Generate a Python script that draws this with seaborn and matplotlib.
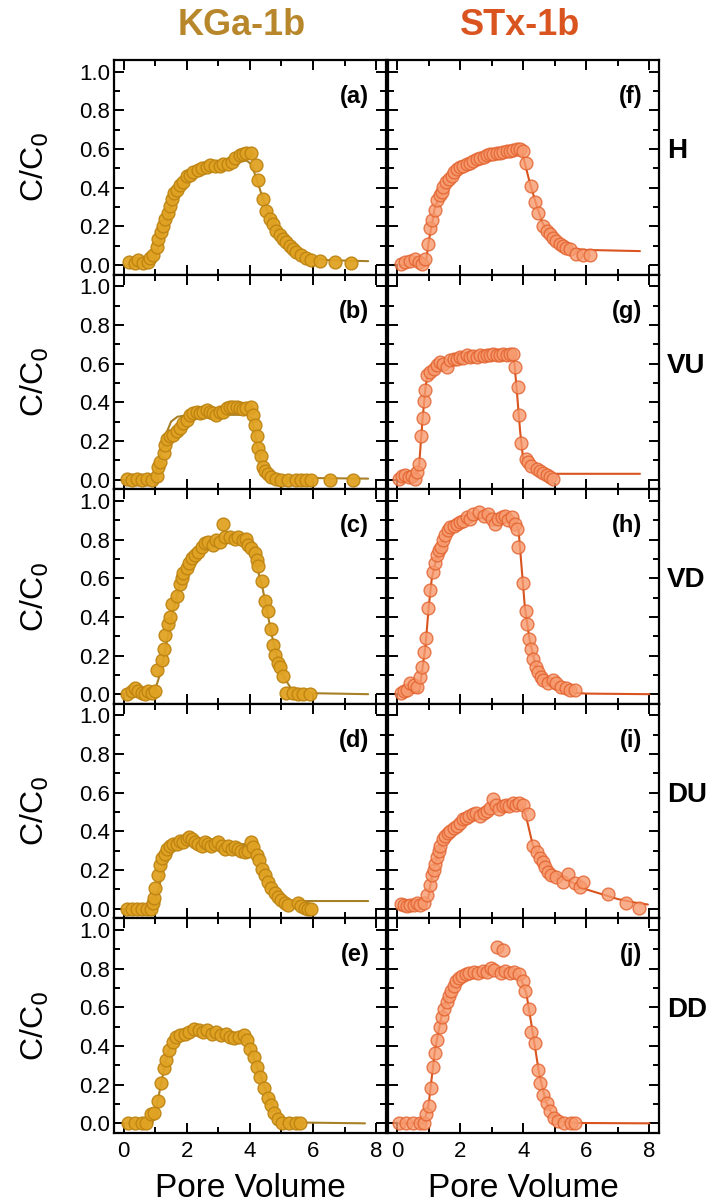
import numpy as np
import pandas as pd
import matplotlib
matplotlib.use("Agg")
import matplotlib.pyplot as plt
import seaborn as sns
from matplotlib.ticker import MultipleLocator, FormatStrFormatter

# ==========================================
# 1. DATA
# ==========================================
# --- KGa-1b ---
a_x = [0.15, 0.36, 0.46, 0.62, 0.78, 0.83, 0.94, 1.04, 1.09, 1.18, 1.25, 1.31, 1.39, 1.47, 1.52, 1.60,
       1.68, 1.78, 1.89, 1.99, 2.10, 2.21, 2.36, 2.47, 2.63, 2.73, 2.89, 3.05, 3.15, 3.31, 3.42, 3.52,
       3.68, 3.79, 3.89, 4.03, 4.18, 4.26, 4.42, 4.52, 4.63, 4.74, 4.84, 4.95, 5.05, 5.16, 5.26, 5.37,
       5.47, 5.63, 5.79, 5.95, 6.21, 6.69, 7.22]
a_y = [0.017, 0.008, 0.025, 0.008, 0.017, 0.034, 0.05, 0.093, 0.136, 0.17, 0.20, 0.24, 0.27, 0.305, 0.34, 0.37,
       0.39, 0.415, 0.43, 0.46, 0.466, 0.483, 0.49, 0.50, 0.508, 0.517, 0.513, 0.51, 0.52, 0.525, 0.534, 0.556,
       0.568, 0.576, 0.58, 0.58, 0.517, 0.44, 0.34, 0.28, 0.237, 0.21, 0.178, 0.153, 0.136, 0.12, 0.10, 0.085,
       0.068, 0.05, 0.034, 0.025, 0.022, 0.017, 0.008]
a_fit_x = [0.1, 0.8, 0.95, 1.1, 1.3, 1.5, 1.7, 2.0, 2.3, 2.6, 3.0, 3.5, 3.9, 4.05, 4.2, 4.5, 4.8, 5.0, 5.5, 6.0, 6.5, 7.75]
a_fit_y = [0.0, 0.0, 0.02, 0.09, 0.2, 0.3, 0.37, 0.44, 0.48, 0.5, 0.515, 0.53, 0.54, 0.52, 0.45, 0.3, 0.19, 0.14, 0.07, 0.035, 0.025, 0.02]

b_x = [0.10, 0.25, 0.42, 0.57, 0.73, 0.89, 1.04, 1.10, 1.15, 1.26, 1.31, 1.36, 1.47, 1.57, 1.68, 1.78,
       1.89, 1.99, 2.10, 2.20, 2.31, 2.42, 2.52, 2.63, 2.73, 2.84, 2.94, 3.05, 3.15, 3.26, 3.37, 3.47,
       3.58, 3.68, 3.79, 3.89, 4.03, 4.10, 4.16, 4.21, 4.26, 4.35, 4.42, 4.49, 4.58, 4.68, 4.84, 5.00,
       5.21, 5.47, 5.63, 5.79, 5.95, 6.53, 7.27]
b_y = [0.005, 0.0, 0.005, 0.0, 0.005, 0.0, 0.02, 0.063, 0.09, 0.14, 0.18, 0.21, 0.225, 0.233, 0.25, 0.267,
       0.293, 0.31, 0.335, 0.344, 0.352, 0.344, 0.352, 0.36, 0.352, 0.344, 0.335, 0.352, 0.352, 0.369, 0.378, 0.373,
       0.378, 0.369, 0.366, 0.369, 0.378, 0.335, 0.284, 0.225, 0.165, 0.123, 0.063, 0.046, 0.029, 0.012, 0.003, 0.0,
       0.0, 0.0, 0.0, 0.0, 0.0, 0.0, 0.0]
b_fit_x = [0.1, 0.9, 1.0, 1.1, 1.3, 1.5, 1.7, 2.0, 3.0, 3.9, 4.05, 4.2, 4.35, 4.5, 4.8, 7.75]
b_fit_y = [0.0, 0.0, 0.02, 0.08, 0.22, 0.3, 0.325, 0.333, 0.335, 0.335, 0.32, 0.2, 0.08, 0.03, 0.01, 0.005]

c_x = [0.10, 0.25, 0.36, 0.46, 0.57, 0.68, 0.78, 0.89, 0.99, 1.04, 1.20, 1.26, 1.31, 1.39, 1.47, 1.54,
       1.68, 1.78, 1.84, 1.89, 1.99, 2.07, 2.15, 2.26, 2.36, 2.47, 2.57, 2.68, 2.84, 2.94, 3.05, 3.15,
       3.21, 3.37, 3.52, 3.63, 3.79, 3.89, 3.95, 4.05, 4.16, 4.21, 4.26, 4.39, 4.47, 4.58, 4.68, 4.74,
       4.79, 4.89, 4.95, 5.05, 5.16, 5.37, 5.53, 5.69, 5.90]
c_y = [0.0, 0.015, 0.03, 0.015, 0.007, 0.0, 0.015, 0.007, 0.015, 0.126, 0.177, 0.236, 0.304, 0.364, 0.398, 0.466,
       0.508, 0.568, 0.602, 0.627, 0.653, 0.678, 0.703, 0.72, 0.737, 0.763, 0.78, 0.788, 0.771, 0.797, 0.788, 0.878,
       0.814, 0.814, 0.805, 0.814, 0.797, 0.805, 0.771, 0.754, 0.729, 0.695, 0.661, 0.585, 0.483, 0.432, 0.338, 0.253,
       0.202, 0.16, 0.143, 0.092, 0.007, 0.007, 0.002, 0.0, 0.0]
c_fit_x = [0.1, 0.95, 1.2, 1.5, 1.8, 2.0, 2.3, 2.6, 3.0, 3.4, 3.8, 4.1, 4.4, 4.7, 5.0, 5.3, 5.6, 6.0, 7.75]
c_fit_y = [0.0, 0.0, 0.13, 0.39, 0.58, 0.67, 0.74, 0.78, 0.80, 0.805, 0.79, 0.73, 0.55, 0.3, 0.11, 0.03, 0.01, 0.005, 0.0]

d_x = [0.10, 0.25, 0.41, 0.57, 0.73, 0.86, 0.94, 0.97, 0.99, 1.08, 1.15, 1.20, 1.31, 1.36, 1.47, 1.57,
       1.68, 1.78, 1.89, 1.99, 2.07, 2.15, 2.26, 2.36, 2.47, 2.57, 2.68, 2.78, 2.89, 2.99, 3.10, 3.21,
       3.31, 3.42, 3.52, 3.63, 3.73, 3.84, 3.95, 4.03, 4.10, 4.21, 4.28, 4.37, 4.47, 4.58, 4.68, 4.79,
       4.89, 5.00, 5.11, 5.21, 5.53, 5.63, 5.74, 5.84, 5.95]
d_y = [0.0, 0.0, 0.0, 0.0, 0.0, 0.0, 0.03, 0.055, 0.105, 0.174, 0.225, 0.26, 0.284, 0.31, 0.327, 0.335,
       0.335, 0.352, 0.344, 0.361, 0.37, 0.361, 0.344, 0.335, 0.327, 0.344, 0.335, 0.327, 0.335, 0.344, 0.327, 0.31,
       0.327, 0.31, 0.318, 0.31, 0.301, 0.293, 0.301, 0.344, 0.318, 0.276, 0.25, 0.208, 0.174, 0.14, 0.106, 0.08,
       0.063, 0.046, 0.029, 0.017, 0.029, 0.012, 0.003, 0.0, 0.0]
d_fit_x = [0.1, 0.9, 1.0, 1.2, 1.4, 1.6, 1.9, 2.5, 3.5, 4.0, 4.2, 4.5, 4.8, 5.1, 5.4, 7.75]
d_fit_y = [0.0, 0.0, 0.03, 0.17, 0.28, 0.32, 0.335, 0.34, 0.34, 0.33, 0.29, 0.19, 0.1, 0.05, 0.04, 0.04]

e_x = [0.14, 0.36, 0.57, 0.72, 0.86, 0.97, 1.08, 1.18, 1.26, 1.33, 1.43, 1.55, 1.65, 1.79, 1.94, 2.08,
       2.22, 2.37, 2.51, 2.65, 2.80, 2.94, 3.08, 3.23, 3.37, 3.51, 3.66, 3.80, 3.90, 4.01, 4.13, 4.23,
       4.33, 4.44, 4.56, 4.66, 4.77, 4.90, 5.02, 5.23, 5.45, 5.59]
e_y = [0.0, 0.0, 0.0, 0.003, 0.046, 0.055, 0.114, 0.208, 0.285, 0.328, 0.379, 0.421, 0.447, 0.456, 0.464, 0.473,
       0.49, 0.481, 0.473, 0.481, 0.464, 0.473, 0.456, 0.464, 0.447, 0.439, 0.447, 0.456, 0.43, 0.387, 0.345, 0.294,
       0.242, 0.183, 0.131, 0.097, 0.055, 0.02, 0.003, 0.0, 0.0, 0.0]
e_fit_x = [0.1, 0.9, 1.0, 1.2, 1.4, 1.6, 1.8, 2.2, 3.0, 3.6, 3.8, 4.0, 4.3, 4.6, 4.9, 5.2, 7.65]
e_fit_y = [0.0, 0.0, 0.05, 0.22, 0.37, 0.43, 0.455, 0.465, 0.465, 0.455, 0.44, 0.39, 0.26, 0.13, 0.04, 0.005, 0.0]

# --- STx-1b ---
f_x = [0.11, 0.26, 0.42, 0.58, 0.68, 0.79, 0.89, 0.97, 1.05, 1.10, 1.21, 1.26, 1.35, 1.42, 1.47, 1.56,
       1.63, 1.74, 1.81, 1.89, 2.00, 2.10, 2.21, 2.31, 2.42, 2.53, 2.63, 2.74, 2.84, 2.95, 3.05, 3.16,
       3.26, 3.37, 3.47, 3.58, 3.68, 3.79, 3.89, 3.98, 4.10, 4.26, 4.37, 4.47, 4.63, 4.74, 4.84, 4.95,
       5.05, 5.16, 5.26, 5.37, 5.47, 5.68, 5.89, 6.10]
f_y = [0.005, 0.014, 0.022, 0.03, 0.014, 0.005, 0.03, 0.107, 0.19, 0.234, 0.285, 0.335, 0.36, 0.378, 0.403, 0.43,
       0.446, 0.463, 0.48, 0.497, 0.505, 0.514, 0.522, 0.53, 0.539, 0.547, 0.556, 0.56, 0.57, 0.573, 0.576, 0.581,
       0.581, 0.586, 0.59, 0.59, 0.593, 0.598, 0.598, 0.59, 0.53, 0.41, 0.327, 0.268, 0.2, 0.175, 0.158, 0.141,
       0.124, 0.11, 0.098, 0.09, 0.081, 0.056, 0.05, 0.05]
f_fit_x = [0.1, 0.9, 1.0, 1.2, 1.5, 2.0, 2.5, 3.0, 3.5, 3.95, 4.2, 4.4, 4.6, 4.9, 5.2, 5.5, 6.0, 7.7]
f_fit_y = [0.0, 0.0, 0.12, 0.3, 0.41, 0.5, 0.54, 0.565, 0.58, 0.59, 0.43, 0.32, 0.22, 0.14, 0.1, 0.085, 0.078, 0.072]

g_x = [0.05, 0.16, 0.26, 0.37, 0.47, 0.58, 0.63, 0.68, 0.76, 0.82, 0.86, 0.89, 0.95, 1.05, 1.16, 1.26,
       1.37, 1.47, 1.58, 1.68, 1.79, 1.89, 2.00, 2.10, 2.21, 2.32, 2.42, 2.53, 2.63, 2.74, 2.84, 2.95,
       3.05, 3.16, 3.26, 3.37, 3.47, 3.58, 3.68, 3.74, 3.82, 3.87, 3.92, 4.08, 4.16, 4.26, 4.42, 4.53,
       4.63, 4.74, 4.84, 4.95]
g_y = [0.003, 0.02, 0.026, 0.012, 0.02, 0.003, 0.037, 0.08, 0.225, 0.319, 0.404, 0.463, 0.54, 0.557, 0.574, 0.591,
       0.608, 0.6, 0.583, 0.617, 0.625, 0.622, 0.634, 0.629, 0.642, 0.634, 0.639, 0.634, 0.642, 0.639, 0.646, 0.642,
       0.651, 0.646, 0.642, 0.651, 0.646, 0.651, 0.651, 0.583, 0.48, 0.336, 0.19, 0.106, 0.089, 0.072, 0.055, 0.046,
       0.032, 0.026, 0.015, 0.003]
g_fit_x = [0.05, 0.6, 0.7, 0.8, 0.9, 0.98, 1.2, 1.6, 2.0, 3.0, 3.65, 3.72, 3.8, 3.9, 4.0, 4.2, 4.5, 4.8, 7.7]
g_fit_y = [0.0, 0.0, 0.08, 0.3, 0.48, 0.55, 0.58, 0.61, 0.625, 0.64, 0.645, 0.6, 0.45, 0.25, 0.1, 0.06, 0.04, 0.03, 0.03]

h_x = [0.11, 0.21, 0.32, 0.42, 0.53, 0.63, 0.72, 0.79, 0.86, 0.92, 0.98, 1.05, 1.14, 1.21, 1.26, 1.32,
       1.39, 1.45, 1.53, 1.60, 1.68, 1.79, 1.89, 2.00, 2.10, 2.21, 2.32, 2.42, 2.58, 2.74, 2.89, 3.00,
       3.10, 3.21, 3.32, 3.42, 3.53, 3.63, 3.74, 3.81, 3.84, 4.00, 4.08, 4.11, 4.19, 4.24, 4.32, 4.40,
       4.47, 4.55, 4.63, 4.79, 4.95, 5.05, 5.21, 5.37, 5.47, 5.63]
h_y = [0.005, 0.014, 0.022, 0.056, 0.048, 0.039, 0.09, 0.141, 0.218, 0.291, 0.447, 0.541, 0.634, 0.677, 0.719, 0.745,
       0.762, 0.796, 0.821, 0.847, 0.864, 0.872, 0.881, 0.889, 0.898, 0.915, 0.906, 0.932, 0.94, 0.923, 0.932, 0.906,
       0.881, 0.906, 0.915, 0.923, 0.901, 0.915, 0.881, 0.855, 0.762, 0.575, 0.43, 0.362, 0.286, 0.235, 0.184, 0.141,
       0.116, 0.09, 0.073, 0.056, 0.073, 0.056, 0.039, 0.031, 0.022, 0.022]
h_fit_x = [0.1, 0.7, 0.9, 1.0, 1.1, 1.3, 1.5, 1.8, 2.2, 2.8, 3.4, 3.7, 3.85, 3.95, 4.05, 4.2, 4.4, 4.7, 5.0, 5.5, 6.0, 8.0]
h_fit_y = [0.0, 0.01, 0.25, 0.45, 0.6, 0.74, 0.81, 0.87, 0.9, 0.915, 0.915, 0.905, 0.85, 0.65, 0.45, 0.28, 0.14, 0.06, 0.025, 0.008, 0.003, 0.0]

i_x = [0.11, 0.21, 0.32, 0.42, 0.53, 0.63, 0.74, 0.84, 0.95, 1.05, 1.10, 1.16, 1.21, 1.26, 1.32, 1.37,
       1.45, 1.53, 1.60, 1.68, 1.79, 1.89, 1.98, 2.08, 2.19, 2.29, 2.40, 2.51, 2.63, 2.74, 2.84, 2.95,
       3.03, 3.14, 3.24, 3.35, 3.45, 3.56, 3.66, 3.77, 3.87, 4.00, 4.16, 4.32, 4.44, 4.53, 4.61, 4.68,
       4.79, 4.89, 5.05, 5.26, 5.42, 5.63, 5.79, 5.89, 6.68, 7.26, 7.68]
i_y = [0.024, 0.017, 0.012, 0.02, 0.017, 0.029, 0.017, 0.029, 0.071, 0.122, 0.173, 0.2, 0.233, 0.267, 0.301, 0.327,
       0.36, 0.378, 0.391, 0.403, 0.42, 0.429, 0.446, 0.463, 0.471, 0.48, 0.488, 0.497, 0.48, 0.497, 0.505, 0.522,
       0.57, 0.539, 0.514, 0.531, 0.539, 0.531, 0.548, 0.539, 0.548, 0.539, 0.488, 0.327, 0.293, 0.262, 0.241, 0.216,
       0.19, 0.173, 0.165, 0.139, 0.182, 0.131, 0.114, 0.136, 0.075, 0.032, 0.003]
i_fit_x = [0.1, 0.9, 1.0, 1.1, 1.3, 1.5, 1.8, 2.2, 2.6, 3.0, 3.5, 3.95, 4.1, 4.3, 4.6, 5.0, 5.5, 6.0, 6.5, 7.0, 7.6, 7.95]
i_fit_y = [0.01, 0.01, 0.07, 0.17, 0.29, 0.36, 0.42, 0.46, 0.49, 0.51, 0.53, 0.54, 0.47, 0.33, 0.25, 0.19, 0.14, 0.1, 0.075, 0.05, 0.03, 0.022]

j_x = [0.07, 0.29, 0.50, 0.71, 0.86, 0.93, 1.00, 1.07, 1.14, 1.21, 1.26, 1.36, 1.43, 1.50, 1.57, 1.64,
       1.71, 1.79, 1.86, 1.97, 2.07, 2.17, 2.29, 2.43, 2.57, 2.71, 2.86, 2.97, 3.07, 3.17, 3.36, 3.29,
       3.43, 3.57, 3.71, 3.86, 4.00, 4.07, 4.17, 4.26, 4.36, 4.46, 4.54, 4.64, 4.74, 4.86, 4.97, 5.11,
       5.29, 5.50, 5.64]
j_y = [0.0, 0.0, 0.0, 0.0, 0.003, 0.046, 0.089, 0.183, 0.294, 0.362, 0.43, 0.498, 0.55, 0.592, 0.626, 0.66,
       0.686, 0.712, 0.737, 0.754, 0.763, 0.771, 0.78, 0.785, 0.78, 0.788, 0.785, 0.805, 0.792, 0.911, 0.899, 0.78,
       0.788, 0.78, 0.785, 0.771, 0.737, 0.686, 0.592, 0.473, 0.413, 0.276, 0.208, 0.148, 0.106, 0.063, 0.029, 0.012,
       0.003, 0.0, 0.0]
j_fit_x = [0.05, 0.85, 1.0, 1.2, 1.4, 1.6, 1.8, 2.0, 2.5, 3.0, 3.6, 3.9, 4.1, 4.3, 4.5, 4.7, 4.9, 5.2, 5.6, 8.0]
j_fit_y = [0.0, 0.0, 0.1, 0.38, 0.55, 0.66, 0.73, 0.76, 0.785, 0.79, 0.785, 0.76, 0.67, 0.47, 0.26, 0.12, 0.05, 0.01, 0.002, 0.0]

clays = ["KGa-1b", "STx-1b"]
orientations = ["H", "VU", "VD", "DU", "DD"]
panel_letters = [["a", "b", "c", "d", "e"], ["f", "g", "h", "i", "j"]]

obs = {
    "a": (a_x, a_y), "b": (b_x, b_y), "c": (c_x, c_y), "d": (d_x, d_y), "e": (e_x, e_y),
    "f": (f_x, f_y), "g": (g_x, g_y), "h": (h_x, h_y), "i": (i_x, i_y), "j": (j_x, j_y),
}
fits = {
    "a": (a_fit_x, a_fit_y), "b": (b_fit_x, b_fit_y), "c": (c_fit_x, c_fit_y), "d": (d_fit_x, d_fit_y),
    "e": (e_fit_x, e_fit_y), "f": (f_fit_x, f_fit_y), "g": (g_fit_x, g_fit_y), "h": (h_fit_x, h_fit_y),
    "i": (i_fit_x, i_fit_y), "j": (j_fit_x, j_fit_y),
}

# ==========================================
# 2. STYLE
# ==========================================
STYLE = {
    "KGa-1b": dict(face="#E0A222", edge="#BE8412", line="#A88028", title="#B8862B", alpha=0.95),
    "STx-1b": dict(face="#F79A6E", edge="#E2602C", line="#D9541E", title="#D9541E", alpha=0.8),
}

sns.set_style("ticks")
plt.rcParams["font.family"] = ["Liberation Sans", "DejaVu Sans"]
plt.rcParams["axes.linewidth"] = 1.6
plt.rcParams["axes.edgecolor"] = "black"
plt.rcParams["xtick.color"] = "black"
plt.rcParams["ytick.color"] = "black"
plt.rcParams["axes.labelcolor"] = "black"
plt.rcParams["text.color"] = "black"

fig = plt.figure(figsize=(7.1, 12.02), dpi=100)
gs = fig.add_gridspec(5, 2, left=0.161, right=0.928, top=0.950, bottom=0.0574, hspace=0, wspace=0.008)

# ==========================================
# 3. PANELS
# ==========================================
for col, clay in enumerate(clays):
    st = STYLE[clay]
    for row, orient in enumerate(orientations):
        ax = fig.add_subplot(gs[row, col])
        letter = panel_letters[col][row]
        ox, oy = obs[letter]
        fx, fy = fits[letter]
        df_obs = pd.DataFrame({"pv": ox, "c": oy})
        df_fit = pd.DataFrame({"pv": fx, "c": fy})

        sns.lineplot(data=df_fit, x="pv", y="c", ax=ax, color=st["line"], lw=1.5, sort=False, zorder=2)
        sns.scatterplot(data=df_obs, x="pv", y="c", ax=ax, s=85, color=st["face"], edgecolor=st["edge"],
                        linewidth=1.0, alpha=st["alpha"], zorder=3)

        ax.set_xlim(-0.3, 8.3)
        ax.set_ylim(-0.05, 1.06)
        ax.xaxis.set_major_locator(MultipleLocator(2))
        ax.xaxis.set_minor_locator(MultipleLocator(1))
        ax.yaxis.set_major_locator(MultipleLocator(0.2))
        ax.yaxis.set_minor_locator(MultipleLocator(0.1))
        ax.yaxis.set_major_formatter(FormatStrFormatter("%.1f"))
        ax.tick_params(which="both", direction="in", top=True, right=True, width=1.4, labelsize=16, pad=3)
        ax.tick_params(axis="x", which="major", pad=6)
        ax.tick_params(which="major", length=7)
        ax.tick_params(which="minor", length=4.5)

        if col == 0:
            ax.set_ylabel("C/C$_0$", fontsize=23, labelpad=20)
        else:
            ax.set_ylabel("")
            ax.tick_params(labelleft=False)
        if row == len(orientations) - 1:
            ax.set_xlabel("Pore Volume", fontsize=24, labelpad=8)
        else:
            ax.set_xlabel("")
            ax.tick_params(labelbottom=False)

        ax.text(0.94, 0.83, f"({letter})", transform=ax.transAxes, ha="right", va="center",
                fontsize=17, fontweight="bold")
        if col == 1:
            ax.text(1.03, 0.575, orient, transform=ax.transAxes, ha="left", va="center",
                    fontsize=20, fontweight="bold")

    fig.text(0.341 if col == 0 else 0.733, 0.979, clay, ha="center", va="center",
             fontsize=26, fontweight="bold", color=st["title"])

plt.savefig("out.png", dpi=100)
